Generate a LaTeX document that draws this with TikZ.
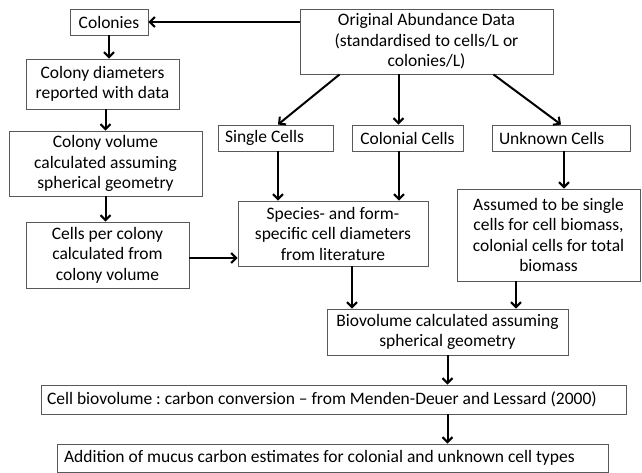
\documentclass[tikz,border=0pt]{standalone}
\usepackage{fontspec}
\setmainfont{Carlito}
\frenchspacing
\usetikzlibrary{arrows.meta}

\tikzset{
  box/.style={draw=black!65, line width=0.9pt, align=center, inner xsep=5pt, inner ysep=0pt,
    font=\fontsize{17.5}{20.5}\selectfont},
  arr/.style={line width=2pt, -{Straight Barb[length=5pt,width=10pt]}}
}

\begin{document}
\begin{tikzpicture}[x=1pt,y=-1pt]

    \useasboundingbox (0,0) rectangle (642,473);

    \draw(109,22) node[box, minimum width=78pt, minimum height=26pt] (colonies) {Colonies};
    \draw(102.5,84) node[box, minimum width=153pt, minimum height=50pt] (diam) {Colony diameters\\reported with data};
    \draw(105.5,163.5) node[box, minimum width=193pt, minimum height=65pt] (colvol) {Colony volume\\calculated assuming\\spherical geometry};
    \draw(107.5,255) node[box, minimum width=163pt, minimum height=66pt] (percol) {Cells per colony\\calculated from\\colony volume};

    \draw(426.5,41.5) node[box, minimum width=253pt, minimum height=65pt] (orig) {Original Abundance Data\\(standardised to cells/L or\\colonies/L)};

    \draw(275.5,138) node[box, minimum width=115pt, minimum height=26pt, text width=101pt, inner xsep=7pt, align=flush left] (single) {Single Cells};
    \draw(407.5,138) node[box, minimum width=111pt, minimum height=26pt] (colonial) {Colonial Cells};
    \draw(561,138) node[box, minimum width=138pt, minimum height=26pt, text width=124pt, inner xsep=7pt, align=flush left] (unknown) {Unknown Cells};

    \draw(333,233.5) node[box, minimum width=190pt, minimum height=65pt] (species) {Species- and form-\\specific cell diameters\\from literature};
    \draw(548.5,235) node[box, minimum width=183pt, minimum height=92pt] (assumed) {Assumed to be single\\cells for cell biomass,\\colonial cells for total\\biomass};
    \draw(447.5,332) node[box, minimum width=241pt, minimum height=46pt] (bio) {Biovolume calculated assuming\\spherical geometry};

    \draw(333.5,399.5) node[box, minimum width=585pt, minimum height=29pt, text width=573pt, inner xsep=6pt, align=flush left] (cellbio) {Cell biovolume : carbon conversion -- from Menden-Deuer and Lessard (2000)};
    \draw(332.5,458) node[box, minimum width=551pt, minimum height=28pt, text width=537pt, inner xsep=7pt, align=flush left] (addition) {Addition of mucus carbon estimates for colonial and unknown cell types};

    \draw[arr] (orig.west |- colonies.east) to (colonies.east);
    \draw[arr] (colonies.south) to (colonies.south |- diam.north);
    \draw[arr] (colvol.north |- diam.south) to (colvol.north);
    \draw[arr] (colvol.south) to (colvol.south |- percol.north);

    \draw[arr] ([xshift=40pt]orig.south west) to ([xshift=2.5pt]single.north);
    \draw[arr] ([xshift=-28pt]orig.south) to ([xshift=-28pt]orig.south |- colonial.north);
    \draw[arr] ([xshift=-60pt]orig.south east) to (unknown.north);

    \draw[arr] ([xshift=2.5pt]single.south) to ([xshift=2.5pt]single.south |- species.north);
    \draw[arr] ([xshift=-8.5pt]colonial.south) to ([xshift=-8.5pt]colonial.south |- species.north);
    \draw[arr] ([xshift=3pt]unknown.south) to ([xshift=3pt]unknown.south |- assumed.north);
    \draw[arr] ([yshift=-3pt]percol.east) to ([yshift=-3pt]percol.east -| species.west);

    \draw[arr] ([xshift=19pt]species.south) to ([xshift=19pt]species.south |- bio.north);
    \draw[arr] ([xshift=-32.5pt]assumed.south) to ([xshift=-32.5pt]assumed.south |- bio.north);
    \draw[arr] (bio.south) to (bio.south |- cellbio.north);
    \draw[arr] (bio.south |- cellbio.south) to (bio.south |- addition.north);

    \end{tikzpicture}
\end{document}
